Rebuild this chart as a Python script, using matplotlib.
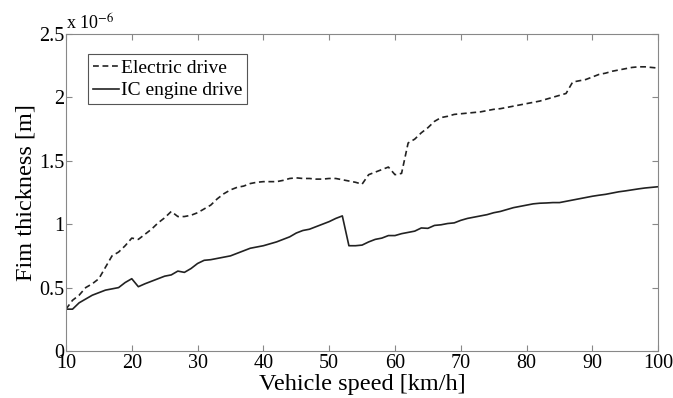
import numpy as np
import matplotlib
matplotlib.use("Agg")
import matplotlib.pyplot as plt

plt.rcParams["font.family"] = ["Liberation Serif", "DejaVu Serif"]
plt.rcParams["mathtext.fontset"] = "stix"

# vehicle speed [km/h]
speed = list(range(10, 101))

# film thickness, in units of 1e-6 m
electric = [
    0.33, 0.40, 0.44, 0.50, 0.53, 0.57, 0.66, 0.75, 0.78, 0.83,   # 10-19
    0.89, 0.88, 0.92, 0.96, 1.01, 1.05, 1.10, 1.06, 1.06, 1.07,   # 20-29
    1.09, 1.12, 1.15, 1.20, 1.24, 1.27, 1.29, 1.30, 1.32, 1.33,   # 30-39
    1.335, 1.335, 1.335, 1.345, 1.36, 1.365, 1.36, 1.36, 1.355, 1.355,  # 40-49
    1.36, 1.36, 1.35, 1.34, 1.33, 1.315, 1.39, 1.41, 1.43, 1.45,  # 50-59
    1.39, 1.40, 1.64, 1.67, 1.72, 1.76, 1.81, 1.84, 1.85, 1.865,  # 60-69
    1.87, 1.875, 1.88, 1.885, 1.895, 1.905, 1.91, 1.92, 1.93, 1.94,  # 70-79
    1.95, 1.96, 1.97, 1.985, 2.00, 2.015, 2.03, 2.12, 2.13, 2.14,  # 80-89
    2.16, 2.18, 2.19, 2.205, 2.215, 2.225, 2.235, 2.24, 2.24, 2.235,  # 90-99
    2.23,
]
ic_engine = [
    0.33, 0.33, 0.38, 0.41, 0.44, 0.46, 0.48, 0.49, 0.50, 0.54,   # 10-19
    0.57, 0.507, 0.53, 0.55, 0.57, 0.59, 0.60, 0.63, 0.62, 0.65,  # 20-29
    0.69, 0.715, 0.72, 0.73, 0.74, 0.75, 0.77, 0.79, 0.81, 0.82,  # 30-39
    0.83, 0.845, 0.86, 0.88, 0.90, 0.93, 0.95, 0.96, 0.98, 1.00,  # 40-49
    1.02, 1.045, 1.065, 0.83, 0.83, 0.835, 0.86, 0.88, 0.89, 0.91,  # 50-59
    0.91, 0.925, 0.935, 0.945, 0.97, 0.967, 0.99, 0.995, 1.005, 1.01,  # 60-69
    1.03, 1.045, 1.055, 1.065, 1.075, 1.09, 1.10, 1.115, 1.13, 1.14,  # 70-79
    1.15, 1.16, 1.165, 1.167, 1.17, 1.17, 1.18, 1.19, 1.20, 1.21,  # 80-89
    1.22, 1.228, 1.235, 1.245, 1.255, 1.262, 1.27, 1.278, 1.285, 1.29,  # 90-99
    1.295,
]

x_ticks = list(range(10, 101, 10))
y_ticks = [0, 0.5, 1, 1.5, 2, 2.5]
y_tick_labels = ["0", "0.5", "1", "1.5", "2", "2.5"]

fig = plt.figure(figsize=(6.73, 3.98), dpi=100)
ax = fig.add_axes([0.098, 0.118, 0.880, 0.797])

ax.plot(speed, electric, "--", color="#222222", lw=1.2, dashes=(3.5, 2.2),
        label="Electric drive")
ax.plot(speed, ic_engine, "-", color="#222222", lw=1.2, label="IC engine drive")

ax.set_xlim(10, 100)
ax.set_ylim(0, 2.5)
ax.set_xticks(x_ticks)
ax.set_yticks(y_ticks)
ax.set_yticklabels(y_tick_labels)
ax.tick_params(direction="in", top=True, right=True, length=4,
               labelsize=14.5, color="#888888", pad=1)
ax.tick_params(axis="x", pad=2)
for s in ax.spines.values():
    s.set_color("#888888")

ax.set_xlabel("Vehicle speed [km/h]", fontsize=17.5, labelpad=1)
ax.set_ylabel("Fim thickness [m]", fontsize=17.5, labelpad=2)

ax.text(0.0, 1.0, r"x 10$^{-6}$", transform=ax.transAxes,
        ha="left", va="bottom", fontsize=13)

leg = ax.legend(loc="upper left", bbox_to_anchor=(0.037, 0.935),
                fontsize=14, handlelength=1.35, handletextpad=0.1,
                borderpad=0.25, labelspacing=0.25, borderaxespad=0,
                fancybox=False, framealpha=1)
leg.get_frame().set_edgecolor("#555555")
leg.get_frame().set_linewidth(0.8)

fig.savefig("out.png", dpi=100)
